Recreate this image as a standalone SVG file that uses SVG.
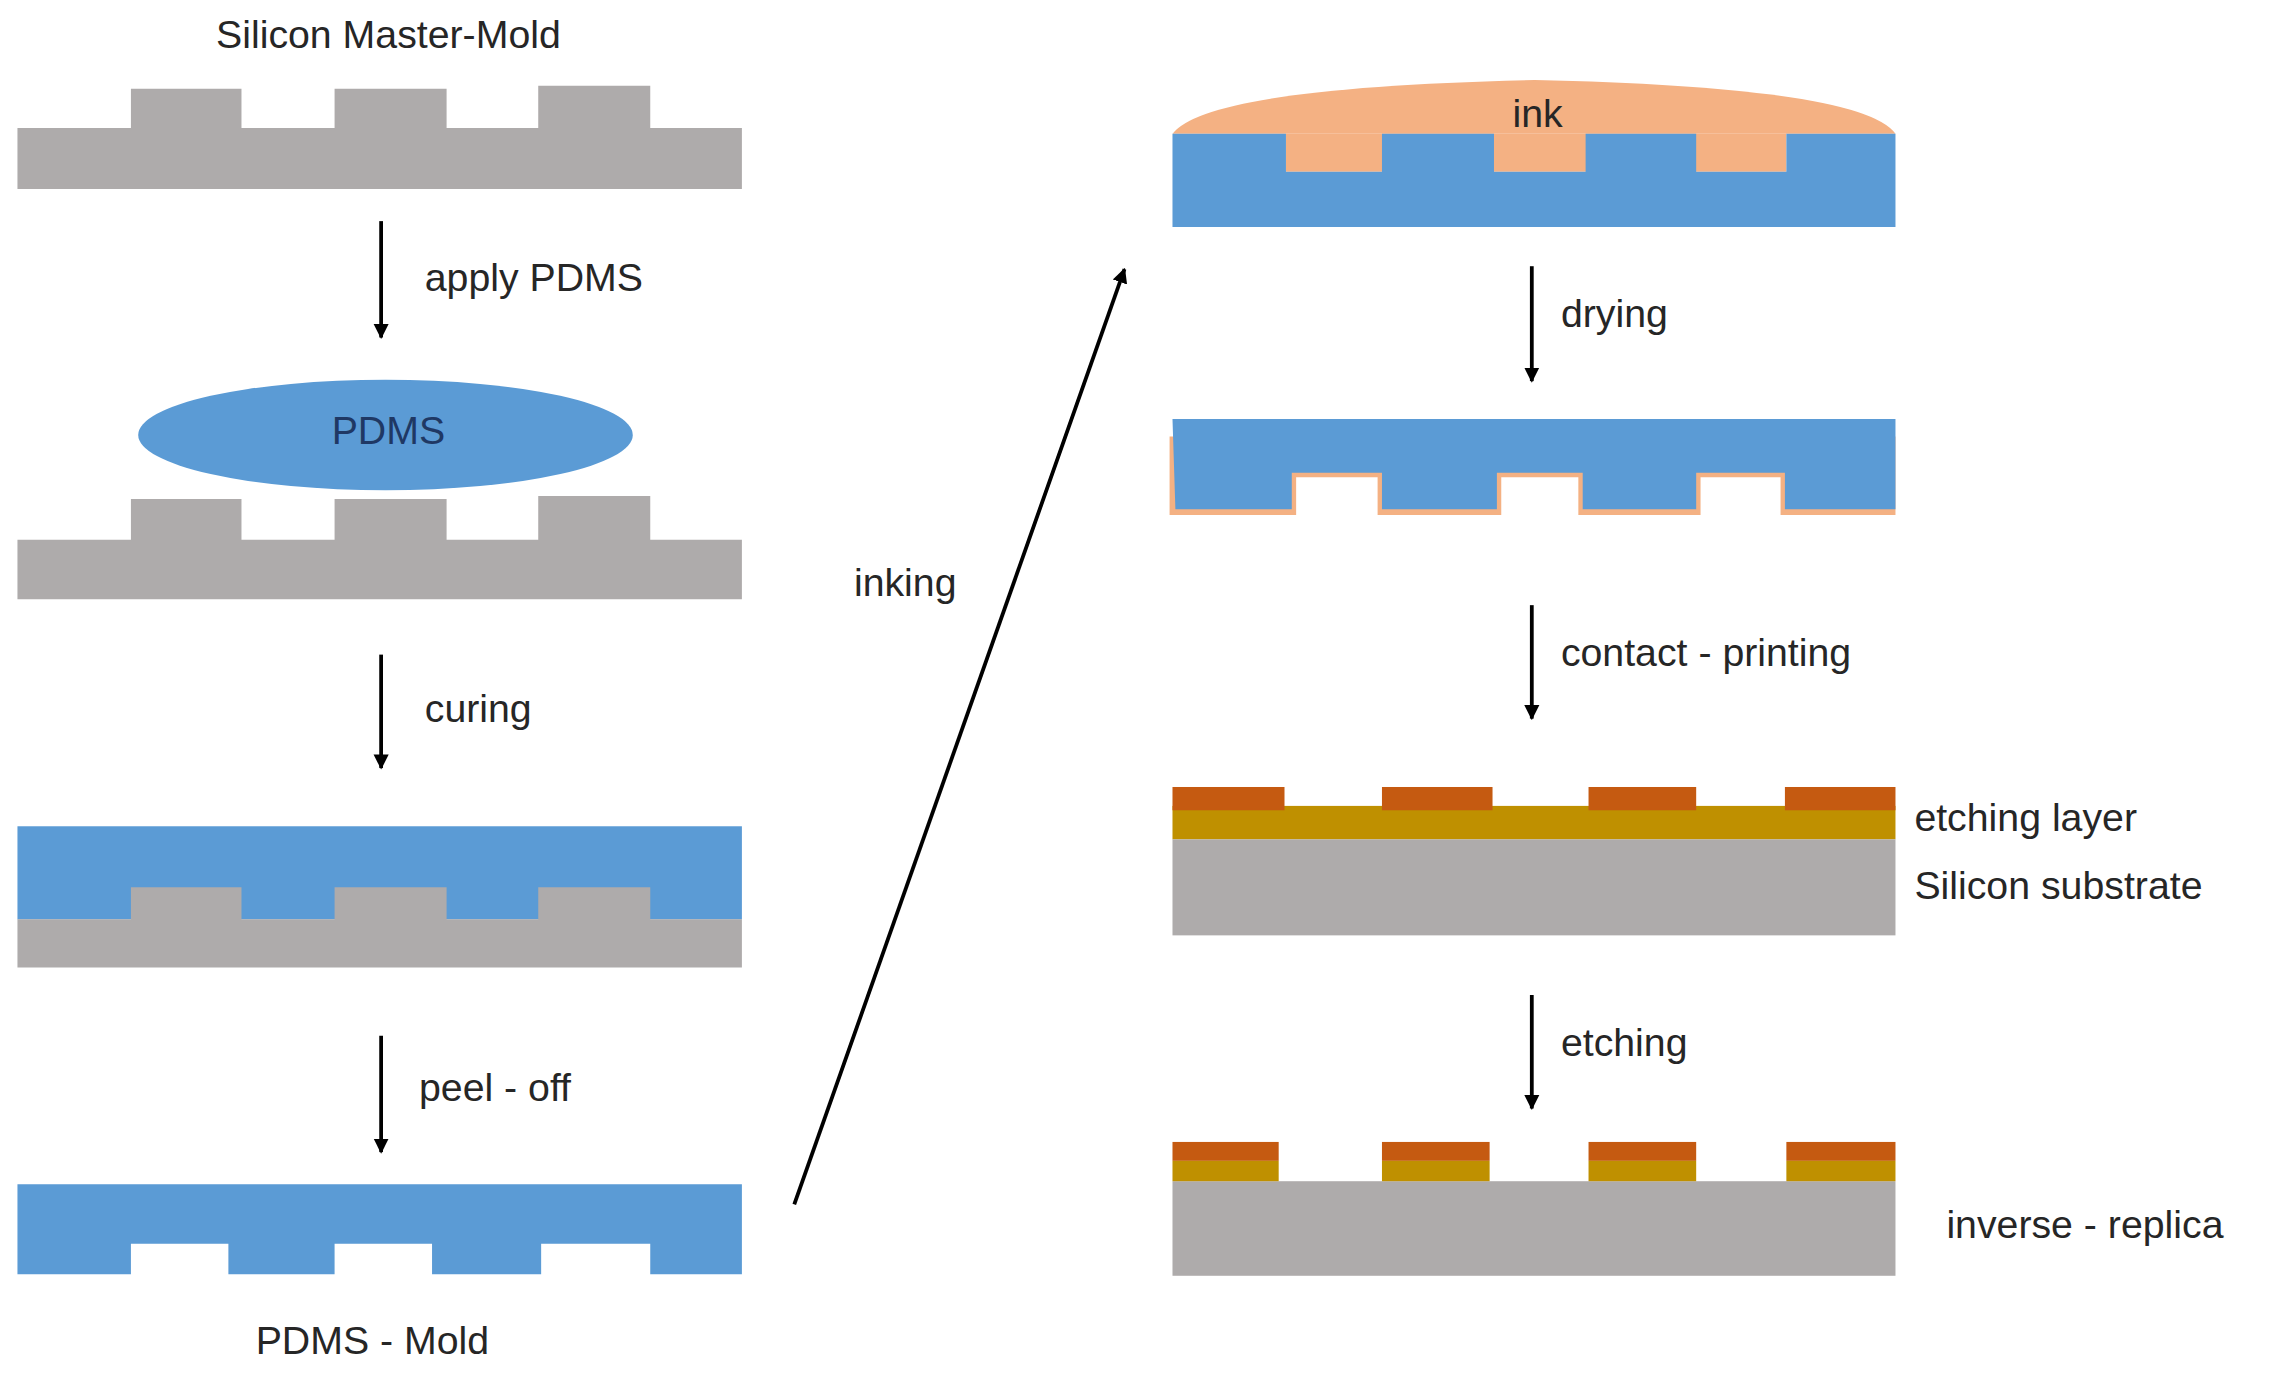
<svg xmlns="http://www.w3.org/2000/svg" width="2281" height="1379" viewBox="0 0 2281 1379">
<defs>
<marker id="ah" viewBox="0 0 10 10" refX="9" refY="5" markerWidth="4" markerHeight="5" orient="auto" markerUnits="strokeWidth"><path d="M0,0 L10,5 L0,10 z" fill="#000"/></marker>
<style>
.t{font-family:"Liberation Sans",Arial,sans-serif;font-size:27px;fill:#262626}
.gray{fill:#aeabab}.blue{fill:#5b9bd5}.ink{fill:#f4b183}.dk{fill:#c55a11}.gold{fill:#bf9000}
.ar{stroke:#000;stroke-width:2.6;fill:none;marker-end:url(#ah)}
</style>
</defs>
<rect width="2281" height="1379" fill="#fff"/>
<g transform="scale(1.4547)">
<g id="master-mold">
<text class="t" x="267" y="33" text-anchor="middle">Silicon Master-Mold</text>
<path class="gray" d="M12,88 H90 V61 H166 V88 H230 V61 H307 V88 H370 V59 H447 V88 H510 V130 H12 Z"/>
</g>
<g id="pdms-apply">
<ellipse class="blue" cx="265" cy="299" rx="170" ry="38"/>
<text class="t" x="267" y="305" text-anchor="middle" fill="#1f3864" style="fill:#1f3864">PDMS</text>
<path class="gray" d="M12,371 H90 V343 H166 V371 H230 V343 H307 V371 H370 V341 H447 V371 H510 V412 H12 Z"/>
</g>
<g id="cured">
<rect class="blue" x="12" y="568" width="498" height="64"/>
<path class="gray" d="M12,632 H90 V610 H166 V632 H230 V610 H307 V632 H370 V610 H447 V632 H510 V665 H12 Z"/>
</g>
<g id="pdms-mold">
<path class="blue" d="M12,814 H510 V876 H447 V855 H372 V876 H297 V855 H230 V876 H157 V855 H90 V876 H12 Z"/>
<text class="t" x="256" y="931" text-anchor="middle">PDMS - Mold</text>
</g>
<g id="inked-stamp">
<path class="ink" d="M806,92 Q830,60 1055,55 Q1280,60 1303,92 Z"/>
<path class="ink" d="M884,92 H1228 V118 H884 Z"/>
<path class="blue" d="M806,92 H884 V118 H950 V92 H1027 V118 H1090 V92 H1166 V118 H1228 V92 H1303 V156 H806 Z"/>
<text class="t" x="1057" y="87" text-anchor="middle">ink</text>
</g>
<g id="dried-stamp">
<path class="ink" d="M804,300 H1303 V354 H1224 V328 H1169 V354 H1085 V328 H1032 V354 H947 V328 H891 V354 H804 Z"/>
<path class="blue" d="M806,288 H1303 V350 H1227 V325 H1166 V350 H1088 V325 H1029 V350 H950 V325 H888 V350 H808 Z"/>
</g>
<g id="printed">
<rect class="gold" x="806" y="554" width="497" height="23"/>
<rect class="gray" x="806" y="577" width="497" height="66"/>
<rect class="dk" x="806" y="541" width="77" height="16"/>
<rect class="dk" x="950" y="541" width="76" height="16"/>
<rect class="dk" x="1092" y="541" width="74" height="16"/>
<rect class="dk" x="1227" y="541" width="76" height="16"/>
<text class="t" x="1316" y="571">etching layer</text>
<text class="t" x="1316" y="618">Silicon substrate</text>
</g>
<g id="replica">
<rect class="gray" x="806" y="812" width="497" height="65"/>
<g class="dk"><rect x="806" y="785" width="73" height="13"/><rect x="950" y="785" width="74" height="13"/><rect x="1092" y="785" width="74" height="13"/><rect x="1228" y="785" width="75" height="13"/></g>
<g class="gold"><rect x="806" y="798" width="73" height="14"/><rect x="950" y="798" width="74" height="14"/><rect x="1092" y="798" width="74" height="14"/><rect x="1228" y="798" width="75" height="14"/></g>
<text class="t" x="1338" y="851">inverse - replica</text>
</g>
<g id="connectors">
<line class="ar" x1="262" y1="152" x2="262" y2="232"/>
<line class="ar" x1="262" y1="450" x2="262" y2="528"/>
<line class="ar" x1="262" y1="712" x2="262" y2="792"/>
<line class="ar" x1="546" y1="828" x2="773" y2="185"/>
<line class="ar" x1="1053" y1="183" x2="1053" y2="262"/>
<line class="ar" x1="1053" y1="416" x2="1053" y2="494"/>
<line class="ar" x1="1053" y1="684" x2="1053" y2="762"/>
<text class="t" x="292" y="200">apply PDMS</text>
<text class="t" x="292" y="496">curing</text>
<text class="t" x="288" y="757">peel - off</text>
<text class="t" x="587" y="410">inking</text>
<text class="t" x="1073" y="225">drying</text>
<text class="t" x="1073" y="458">contact - printing</text>
<text class="t" x="1073" y="726">etching</text>
</g>
</g>
</svg>
